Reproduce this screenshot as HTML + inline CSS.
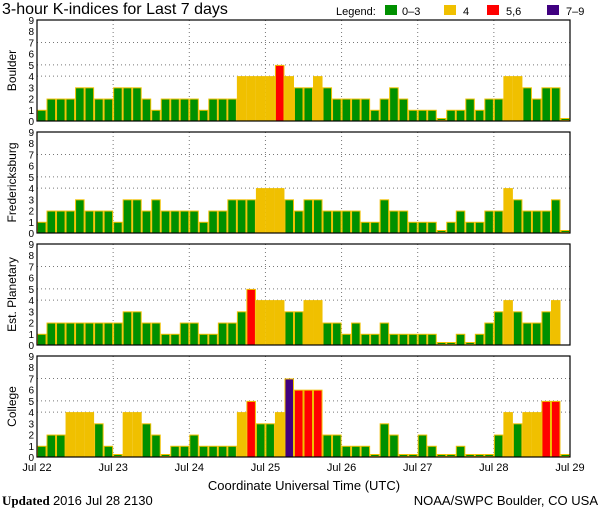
<!DOCTYPE html>
<html><head><meta charset="utf-8"><style>
body{margin:0;background:#fff;}
svg{display:block;font-family:"Liberation Sans",sans-serif;}
</style></head><body>
<svg id="chart" width="600" height="510">
<text x="2" y="14" font-size="16">3-hour K-indices for Last 7 days</text>
<g font-size="11">
<text x="336" y="15">Legend:</text>
<rect x="385" y="5" width="12" height="10" fill="#009000"/>
<text x="402" y="15">0–3</text>
<rect x="444" y="5" width="12" height="10" fill="#f0c000"/>
<text x="463" y="15">4</text>
<rect x="487" y="5" width="12" height="10" fill="#ff0000"/>
<text x="506" y="15">5,6</text>
<rect x="547" y="5" width="12" height="10" fill="#400080"/>
<text x="566" y="15">7–9</text>
</g>
<text x="304" y="490" font-size="13" text-anchor="middle">Coordinate Universal Time (UTC)</text>
<text x="2" y="505" font-size="13" font-family="Liberation Serif, serif"><tspan font-weight="bold">Updated</tspan> <tspan font-family="Liberation Sans, sans-serif">2016 Jul 28 2130</tspan></text>
<text x="598" y="505" font-size="13" text-anchor="end">NOAA/SWPC Boulder, CO USA</text>
</svg>
<script>
const dayLabels = ["Jul 22","Jul 23","Jul 24","Jul 25","Jul 26","Jul 27","Jul 28","Jul 29"];
const yTicks = [0,1,2,3,4,5,6,7,8,9];
const stations = ["Boulder","Fredericksburg","Est. Planetary","College"];
const boulder = [1,2,2,2,3,3,2,2, 3,3,3,2,1,2,2,2, 2,1,2,2,2,4,4,4, 4,5,4,3,3,4,3,2, 2,2,2,1,2,3,2,1, 1,1,0,1,1,2,1,2, 2,4,4,3,2,3,3,0];
const fredericksburg = [1,2,2,2,3,2,2,2, 1,3,3,2,3,2,2,2, 2,1,2,2,3,3,3,4, 4,4,3,2,3,3,2,2, 2,2,1,1,3,2,2,1, 1,1,0,1,2,1,1,2, 2,4,3,2,2,2,3,0];
const planetary = [1,2,2,2,2,2,2,2, 2,3,3,2,2,1,1,2, 2,1,1,2,2,3,5,4, 4,4,3,3,4,4,2,2, 1,2,1,1,2,1,1,1, 1,1,0,0,1,0,1,2, 3,4,3,2,2,3,4,null];
const college = [1,2,2,4,4,4,3,1, 0,4,4,3,2,0,1,1, 2,1,1,1,1,4,5,3, 3,4,7,6,6,6,2,2, 1,1,1,0,3,2,0,0, 2,1,0,0,1,0,0,0, 2,4,3,4,4,5,5,0];
const series = [boulder, fredericksburg, planetary, college];

const NS="http://www.w3.org/2000/svg";
const svg=document.getElementById('chart');
const X0=37, X1=570, nBars=56;
const panelTops=[20,132,244,356], PH=101;
function xScale(i){return X0+(X1-X0)*i/nBars;}
function yScale(top,v){return top+PH-v*PH/9;}
function color(v){return v<=3?'#009000':v==4?'#f0c000':v<=6?'#ff0000':'#400080';}
function mk(tag,attrs){const e=document.createElementNS(NS,tag);for(const k in attrs)e.setAttribute(k,attrs[k]);svg.appendChild(e);return e;}

stations.forEach((name,p)=>{
  const top=panelTops[p], bot=top+PH;
  [4,5,7].forEach(v=>{
    const l=mk('line',{x1:X0,x2:X1,y1:yScale(top,v),y2:yScale(top,v),stroke:'#777','stroke-dasharray':'1,3'});
    
    
  });
  for(let d=1;d<7;d++){
    const x=xScale(d*8);
    const l=mk('line',{x1:x,x2:x,y1:top,y2:bot,stroke:'#777','stroke-dasharray':'1,3'});
    
    
  }
  series[p].forEach((v,i)=>{
    if(v===null) return;
    const x=xScale(i), w=xScale(i+1)-x;
    let y=yScale(top,v), h=bot-y;
    if(v===0){y=bot-3;h=2.5;}
    const r=mk('rect',{x:x+0.5,y:y+0.5,width:w-1,height:Math.max(h-0.5,1.5),fill:color(v),stroke:'#f0c000','stroke-width':1});
    
    
  });
  const f=mk('rect',{x:X0,y:top,width:X1-X0,height:PH,fill:'none',stroke:'#000','stroke-width':1.2});
  
  
  yTicks.forEach(v=>{
    const t=mk('text',{x:34,y:yScale(top,v)+4,'font-size':10,'text-anchor':'end'});
    t.textContent=v;
    
    
  });
  const lab=mk('text',{transform:`translate(16,${top+PH/2}) rotate(-90)`,'font-size':12,'text-anchor':'middle'});
  lab.textContent=name;
  
  
});
dayLabels.forEach((d,i)=>{
  const t=mk('text',{x:xScale(i*8),y:471,'font-size':11,'text-anchor':'middle'});
  t.textContent=d;
  
  
});
</script>
</body></html>
